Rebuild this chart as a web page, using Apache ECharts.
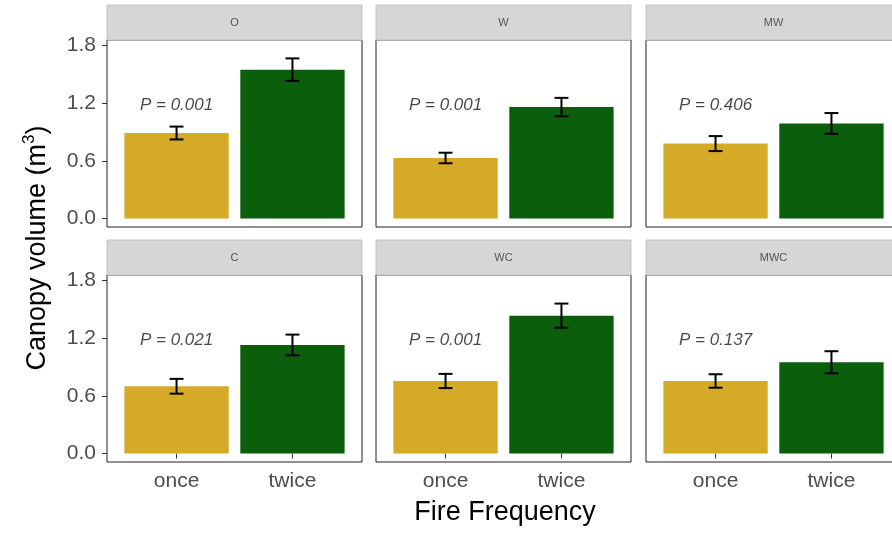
<!DOCTYPE html>
<html>
<head>
<meta charset="utf-8">
<script src="https://cdn.jsdelivr.net/npm/echarts@6/dist/echarts.min.js"></script>
<style>html,body{margin:0;padding:0;background:#fff;overflow:hidden;width:892px;height:533px}#c{width:912px;height:533px}</style>
</head>
<body>
<div id="c"></div>
<script>
// ---- data ----
const facets = ['O', 'W', 'MW', 'C', 'WC', 'MWC'];
const freqCats = ['once', 'twice'];
const onceMean = [0.89, 0.63, 0.78, 0.70, 0.755, 0.755];
const onceSE = [0.067, 0.055, 0.078, 0.077, 0.074, 0.070];
const twiceMean = [1.55, 1.16, 0.99, 1.13, 1.435, 0.95];
const twiceSE = [0.117, 0.096, 0.108, 0.108, 0.126, 0.115];
const pValues = ['0.001', '0.001', '0.406', '0.021', '0.001', '0.137'];
const yTicks = [0, 0.6, 1.2, 1.8];
const pLabelY = 1.18;

// ---- layout ----
const colLeft = [107, 376, 646];
const rowTop = [40, 275];
const stripTop = [5, 240];
const stripH = 35;
const panelW = 255;
const panelH = 187;
const gold = '#D4AA26';
const green = '#0B5E0B';
const font = '"Liberation Sans", Arial, Helvetica, sans-serif';

const grids = [], xAxes = [], yAxes = [], series = [], graphics = [];

facets.forEach((f, i) => {
  const r = Math.floor(i / 3), c = i % 3;
  grids.push({left: colLeft[c], top: rowTop[r], width: panelW, height: panelH,
    show: true, borderColor: '#222', borderWidth: 1, backgroundColor: '#fff', containLabel: false});
  xAxes.push({type: 'value', gridIndex: i, min: 0.4, max: 2.6,
    axisLine: {show: false}, splitLine: {show: false},
    axisTick: {show: r === 1, customValues: [1, 2], length: 5, lineStyle: {color: '#333', width: 1}},
    axisLabel: {show: r === 1, customValues: [1, 2], formatter: v => freqCats[Math.round(v) - 1],
      color: '#4d4d4d', fontSize: 21, fontFamily: font, margin: 9}});
  yAxes.push({type: 'value', gridIndex: i, min: -0.0885, max: 1.8585,
    axisLine: {show: false}, splitLine: {show: false},
    axisTick: {show: c === 0, customValues: yTicks, length: 5, lineStyle: {color: '#333', width: 1}},
    axisLabel: {show: c === 0, customValues: yTicks, formatter: v => v.toFixed(1),
      color: '#4d4d4d', fontSize: 21, fontFamily: font, margin: 11}});

  series.push({type: 'bar', xAxisIndex: i, yAxisIndex: i, barWidth: '90%', silent: true, z: 2,
    data: [
      {value: [1, onceMean[i]], itemStyle: {color: gold}},
      {value: [2, twiceMean[i]], itemStyle: {color: green}}
    ]});
  series.push({type: 'custom', xAxisIndex: i, yAxisIndex: i, silent: true, z: 5,
    data: [[1, onceMean[i] - onceSE[i], onceMean[i] + onceSE[i]],
           [2, twiceMean[i] - twiceSE[i], twiceMean[i] + twiceSE[i]]],
    renderItem: (params, api) => {
      const x = api.value(0);
      const lo = api.coord([x, api.value(1)]);
      const hi = api.coord([x, api.value(2)]);
      const hw = api.size([0.06, 0])[0];
      const st = {stroke: '#000', lineWidth: 2};
      return {type: 'group', children: [
        {type: 'line', shape: {x1: lo[0], y1: lo[1], x2: hi[0], y2: hi[1]}, style: st},
        {type: 'line', shape: {x1: lo[0] - hw, y1: lo[1], x2: lo[0] + hw, y2: lo[1]}, style: st},
        {type: 'line', shape: {x1: hi[0] - hw, y1: hi[1], x2: hi[0] + hw, y2: hi[1]}, style: st}
      ]};
    }});
  series.push({type: 'scatter', xAxisIndex: i, yAxisIndex: i, symbolSize: 0, silent: true, z: 6,
    data: [[1, pLabelY, 'P = ' + pValues[i]]],
    label: {show: true, position: 'inside', formatter: p => p.value[2],
      fontStyle: 'italic', fontSize: 17, color: '#1a1a1a', fontFamily: font}});

  graphics.push({type: 'rect', shape: {x: colLeft[c], y: stripTop[r], width: panelW, height: stripH},
    style: {fill: '#d6d6d6', stroke: '#c4c4c4', lineWidth: 1}, silent: true});
  graphics.push({type: 'text', x: colLeft[c] + panelW / 2, y: stripTop[r] + stripH / 2,
    style: {text: f, fill: '#555', fontSize: 11, fontFamily: font, align: 'center', verticalAlign: 'middle'}, silent: true});
});

graphics.push({type: 'text', x: 38, y: 248, rotation: Math.PI / 2,
  style: {text: 'Canopy volume (m{sup|3})', fill: '#000', fontSize: 27, fontFamily: font,
    align: 'center', verticalAlign: 'middle',
    rich: {sup: {fontSize: 17, fontFamily: font, fill: '#000', verticalAlign: 'top', lineHeight: 34, padding: [0, 0, 14, 0]}}}, silent: true});
graphics.push({type: 'text', x: 505, y: 513,
  style: {text: 'Fire Frequency', fill: '#000', fontSize: 27, fontFamily: font, align: 'center', verticalAlign: 'middle'}, silent: true});

const chart = echarts.init(document.getElementById('c'), null, {renderer: 'canvas'});
chart.setOption({animation: false, backgroundColor: '#fff', grid: grids, xAxis: xAxes, yAxis: yAxes, series: series, graphic: graphics});
</script>
</body>
</html>
